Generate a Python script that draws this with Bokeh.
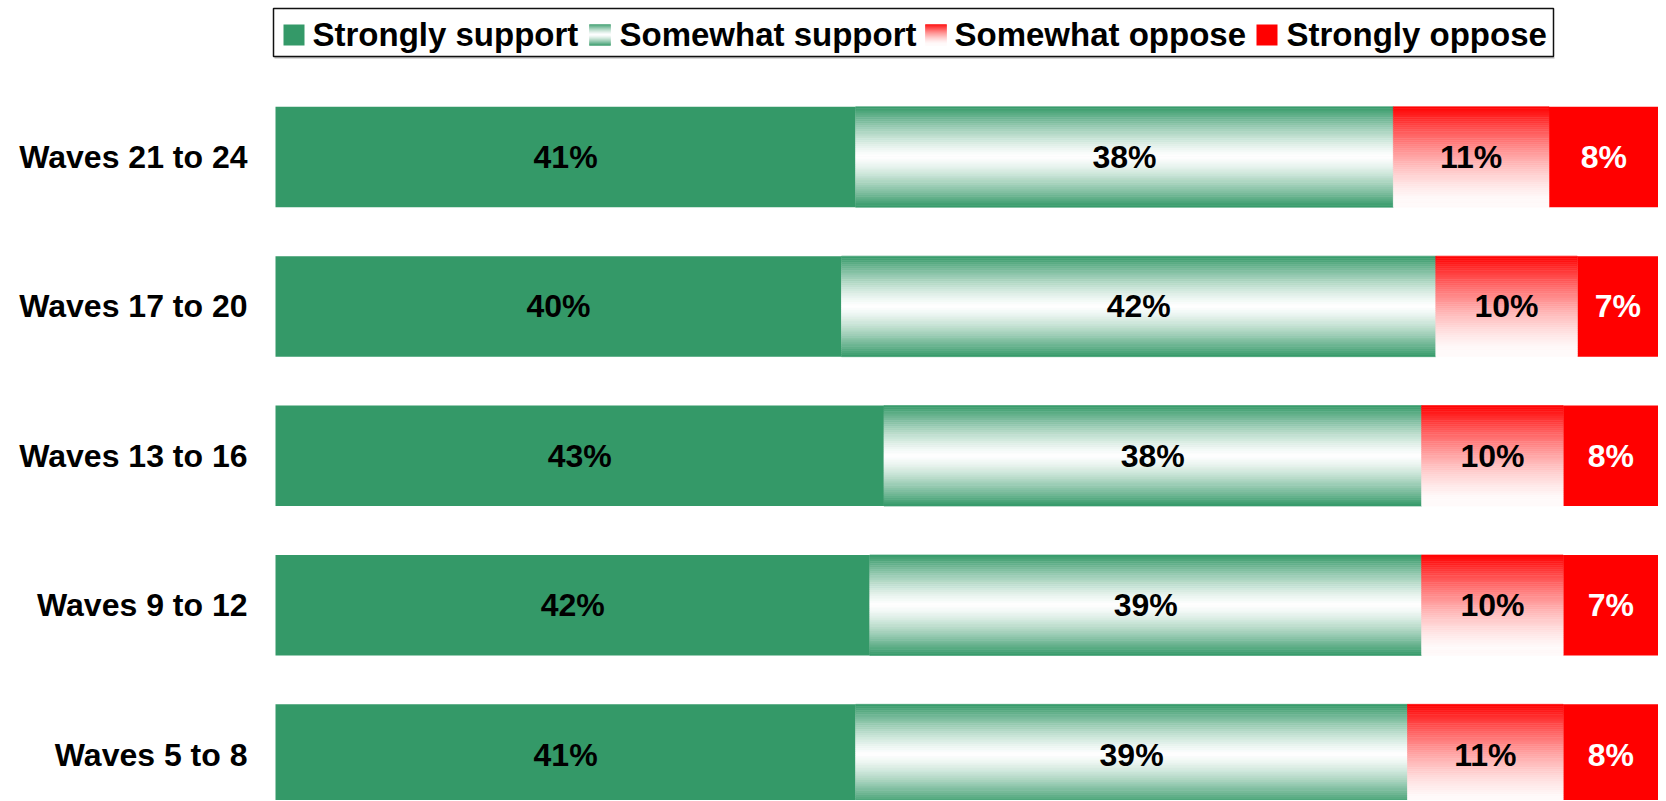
import numpy as np
from bokeh.plotting import figure
from bokeh.layouts import column
from bokeh.models import ColumnDataSource, Range1d, FixedTicker
from bokeh.core.properties import value
from bokeh.embed import file_html
from bokeh.resources import INLINE

# ---------------- data ----------------
waves = ["Waves 21 to 24", "Waves 17 to 20", "Waves 13 to 16", "Waves 9 to 12", "Waves 5 to 8"]
strongly_support = [41, 40, 43, 42, 41]
somewhat_support = [38, 42, 38, 39, 39]
somewhat_oppose = [11, 10, 10, 10, 11]
strongly_oppose = [8, 7, 8, 7, 8]
series_names = ["Strongly support", "Somewhat support", "Somewhat oppose", "Strongly oppose"]

# ---------------- style ----------------
GREEN = (52, 153, 104)
RED = (255, 0, 0)
GREEN_HEX = "#349968"
RED_HEX = "#ff0000"
FONT = "Liberation Sans"

def mix(c, f):
    return "#%02x%02x%02x" % tuple(int(round(255 * (1 - f) + ci * f)) for ci in c)

def support_f(t):
    return abs(2 * t - 1) ** 1.3

def oppose_f(t):
    return max(0.02, (1 - t) ** 1.5)

W = 1658
FRAME_LEFT = 269
PX_PER = 14.15
BAR_START = 275
X_START = -(BAR_START - FRAME_LEFT) / PX_PER
X_END = (W - BAR_START) / PX_PER
SPACING = 149.4
LEG_H = 62
MAIN_H = 738
TOP_PX = 157.5 - 1 - LEG_H
Y_TOP = -TOP_PX / SPACING
Y_BOTTOM = (MAIN_H - TOP_PX) / SPACING
ROW_H = 0.673
NSTRIP = 48

ys = list(range(len(waves)))

p = figure(width=W, height=MAIN_H,
           x_range=Range1d(X_START, X_END), y_range=Range1d(Y_BOTTOM, Y_TOP),
           x_axis_location=None, y_axis_location="left",
           output_backend="svg", toolbar_location=None,
           min_border_left=FRAME_LEFT, min_border_right=0, min_border_top=0, min_border_bottom=0)
p.outline_line_color = None
p.xgrid.visible = False
p.ygrid.visible = False

# cumulative positions
ss = np.array(strongly_support, float)
sws = np.array(somewhat_support, float)
swo = np.array(somewhat_oppose, float)
so = np.array(strongly_oppose, float)
l0 = np.zeros(len(waves)); r0 = l0 + ss
l1 = r0; r1 = l1 + sws
l2 = r1; r2 = l2 + swo
l3 = r2; r3 = l3 + so

# solid segments
p.hbar(y=ys, left=l0, right=r0, height=ROW_H, fill_color=GREEN_HEX, line_color=None)
p.hbar(y=ys, left=l3, right=r3, height=ROW_H, fill_color=RED_HEX, line_color=None)

# gradient segments via thin strips
gl, gr, gt, gb, gc = [], [], [], [], []
for i, yc in enumerate(ys):
    for (L, R, fn, col) in [(l1[i], r1[i], support_f, GREEN), (l2[i], r2[i], oppose_f, RED)]:
        for j in range(NSTRIP):
            t = (j + 0.5) / NSTRIP
            top = yc - ROW_H / 2 + j * ROW_H / NSTRIP
            bot = top + ROW_H / NSTRIP
            gl.append(L); gr.append(R); gt.append(top); gb.append(bot)
            gc.append(mix(col, fn(t)))
p.quad(source=ColumnDataSource(dict(left=gl, right=gr, top=gt, bottom=gb, c=gc)),
       left="left", right="right", top="top", bottom="bottom",
       fill_color="c", line_color="c", line_width=0.6)

# value labels
lx, ly, lt, lcol = [], [], [], []
for i, yc in enumerate(ys):
    for (L, R, v, col) in [(l0[i], r0[i], ss[i], "black"), (l1[i], r1[i], sws[i], "black"),
                           (l2[i], r2[i], swo[i], "black"), (l3[i], r3[i], so[i], "white")]:
        lx.append((L + min(R, X_END)) / 2)
        ly.append(yc)
        lt.append("%d%%" % v)
        lcol.append(col)
p.text(source=ColumnDataSource(dict(x=lx, y=ly, t=lt, c=lcol)), x="x", y="y", text="t",
       text_color="c", text_font=value(FONT), text_font_style="bold",
       text_font_size=value("32px"), text_align="center", text_baseline="middle")

# y axis with category labels
ax = p.yaxis[0]
ax.ticker = FixedTicker(ticks=ys)
ax.major_label_overrides = {i: w for i, w in zip(ys, waves)}
ax.axis_line_color = None
ax.major_tick_line_color = None
ax.minor_tick_line_color = None
ax.major_tick_out = 0
ax.major_tick_in = 0
ax.major_label_standoff = 22
ax.major_label_text_font = FONT
ax.major_label_text_font_style = "bold"
ax.major_label_text_font_size = "32px"
ax.major_label_text_color = "black"

# ---------------- legend figure ----------------
lg = figure(width=W, height=LEG_H, x_range=Range1d(FRAME_LEFT, W), y_range=Range1d(LEG_H, 0),
            x_axis_location=None, y_axis_location=None,
            output_backend="svg", toolbar_location=None,
            min_border_left=FRAME_LEFT, min_border_right=0, min_border_top=0, min_border_bottom=0)
lg.outline_line_color = None
lg.xgrid.visible = False
lg.ygrid.visible = False

lg.segment(x0=[274], x1=[1554], y0=[57.4], y1=[57.4], line_color="#a0a0a0", line_width=1)
lg.quad(left=[273], right=[1553], top=[8], bottom=[56], fill_color="white",
        line_color="#111111", line_width=1.5)

sq_x = [283, 589, 925, 1256]
txt_x = [312, 619, 954, 1286]
SQ = 21
SQ_TOP, SQ_BOT = 24, 45
lg.quad(left=[sq_x[0], sq_x[3]], right=[sq_x[0] + SQ, sq_x[3] + SQ], top=[SQ_TOP] * 2,
        bottom=[SQ_BOT] * 2, fill_color=[GREEN_HEX, RED_HEX], line_color=None)
ql, qr, qt, qb, qc = [], [], [], [], []
n = 21
for k, fn, col in [(1, support_f, GREEN), (2, oppose_f, RED)]:
    for j in range(n):
        t = (j + 0.5) / n
        ql.append(sq_x[k]); qr.append(sq_x[k] + SQ)
        qt.append(SQ_TOP + j * (SQ_BOT - SQ_TOP) / n)
        qb.append(SQ_TOP + (j + 1) * (SQ_BOT - SQ_TOP) / n)
        qc.append(mix(col, fn(t)))
lg.quad(source=ColumnDataSource(dict(left=ql, right=qr, top=qt, bottom=qb, c=qc)),
        left="left", right="right", top="top", bottom="bottom",
        fill_color="c", line_color="c", line_width=0.5)
lg.text(x=txt_x, y=[33.5] * 4, text=series_names, text_color="black",
        text_font=value(FONT), text_font_style="bold", text_font_size=value("33px"),
        text_align="left", text_baseline="middle")

layout = column(lg, p)
open("out.html", "w").write(file_html(layout, INLINE))
